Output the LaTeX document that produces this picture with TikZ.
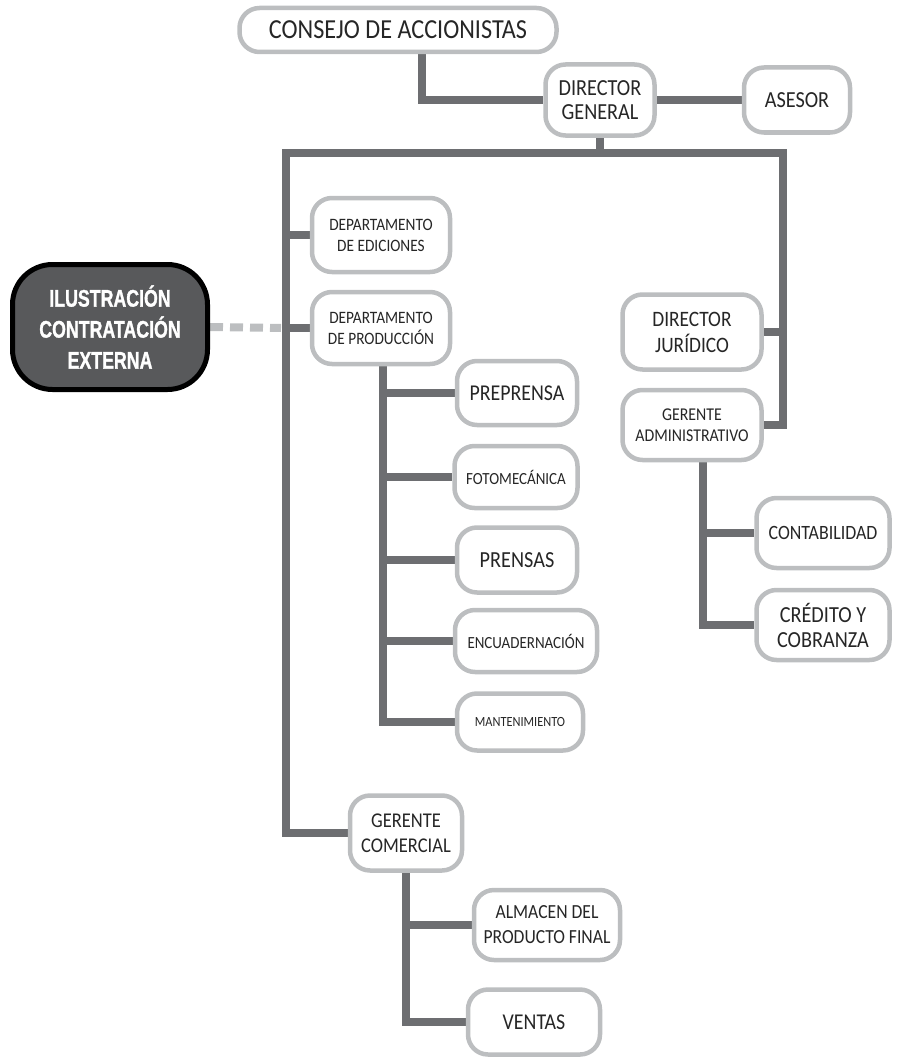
\documentclass[tikz,border=0pt]{standalone}
\usepackage{fontspec}
\usetikzlibrary{backgrounds}
\setmainfont[FakeStretch=0.88]{Carlito}
\newfontfamily\ilfont[FakeStretch=0.74,FakeBold=1.2]{Liberation Sans}
\definecolor{conncol}{HTML}{6D6E71}
\definecolor{bordcol}{HTML}{BCBEC0}
\definecolor{ilfill}{HTML}{58595B}
\tikzset{
  box/.style={draw=bordcol, line width=4.5pt, fill=white, rounded corners=20pt, align=center, inner sep=0pt, text=black!85},
  ilbox/.style={draw=black, line width=5pt, fill=ilfill, rounded corners=40pt, align=center, inner sep=0pt, text=white},
  conn/.style={draw=conncol, line width=8pt},
  dconn/.style={draw=bordcol, line width=8pt, dash pattern=on 13pt off 7pt},
}
\begin{document}
\begin{tikzpicture}[x=1pt,y=-1pt]
\useasboundingbox (0,0) rectangle (902,1062);
% coordinates of trunk
\coordinate (tl) at (286,153);
\coordinate (tr) at (783,153);
% nodes
\node[box, minimum width=317pt, minimum height=44pt, font=\fontsize{27.5}{29}\selectfont] (consejo) at (398,30) {CONSEJO DE ACCIONISTAS};
\node[box, minimum width=109pt, minimum height=71pt, font=\fontsize{23}{24}\selectfont] (dg) at (600,100) {DIRECTOR\\GENERAL};
\node[box, minimum width=106pt, minimum height=65pt, font=\fontsize{23}{24}\selectfont] (asesor) at (797,100) {ASESOR};
\node[box, minimum width=138pt, minimum height=74pt, font=\fontsize{17.4}{21}\selectfont] (ed) at (381,235) {DEPARTAMENTO\\DE EDICIONES};
\node[box, minimum width=138pt, minimum height=72pt, font=\fontsize{17.4}{21}\selectfont] (dp) at (381,328) {DEPARTAMENTO\\DE PRODUCCIÓN};
\node[ilbox, minimum width=195pt, minimum height=125pt, font=\ilfont\bfseries\fontsize{24}{31}\selectfont] (ilu) at (110,327) {ILUSTRACIÓN\\CONTRATACIÓN\\EXTERNA};
\node[box, minimum width=120pt, minimum height=64pt, font=\fontsize{22.6}{24}\selectfont] (pre) at (517,393) {PREPRENSA};
\node[box, minimum width=123pt, minimum height=62pt, font=\fontsize{17}{18}\selectfont] (foto) at (516,477) {FOTOMECÁNICA};
\node[box, minimum width=120pt, minimum height=65pt, font=\fontsize{23}{24}\selectfont] (prensas) at (517,560) {PRENSAS};
\node[box, minimum width=142pt, minimum height=62pt, font=\fontsize{17}{18}\selectfont] (enc) at (526,641) {ENCUADERNACIÓN};
\node[box, minimum width=126pt, minimum height=57pt, font=\fontsize{14}{15}\selectfont] (mant) at (520,722) {MANTENIMIENTO};
\node[box, minimum width=139pt, minimum height=75pt, font=\fontsize{22}{26}\selectfont] (dj) at (692,332) {DIRECTOR\\JURÍDICO};
\node[box, minimum width=139pt, minimum height=70pt, font=\fontsize{18}{21}\selectfont] (ga) at (692,425) {GERENTE\\ADMINISTRATIVO};
\node[box, minimum width=133pt, minimum height=70pt, font=\fontsize{20.3}{22}\selectfont] (cont) at (823,533) {CONTABILIDAD};
\node[box, minimum width=133pt, minimum height=70pt, font=\fontsize{23}{25}\selectfont] (cred) at (823,625) {CRÉDITO Y\\COBRANZA};
\node[box, minimum width=112pt, minimum height=75pt, font=\fontsize{21}{25}\selectfont] (gc) at (406,833) {GERENTE\\COMERCIAL};
\node[box, minimum width=146pt, minimum height=70pt, font=\fontsize{20}{25}\selectfont] (alm) at (547,925) {ALMACEN DEL\\PRODUCTO FINAL};
\node[box, minimum width=132pt, minimum height=65pt, font=\fontsize{22.6}{24}\selectfont] (ventas) at (534,1022) {VENTAS};
% connectors
\begin{scope}[on background layer]
\draw[conn] ([xshift=24pt]consejo.south) |- (dg.west);
\draw[conn] (dg.east) -- (asesor.west);
\draw[conn] (dg.south) -- (dg.south |- tl);
\draw[conn, line cap=rect] (tl) -- (tr);
\draw[conn] (tl) |- (gc.west);
\draw[conn] (tl |- ed.west) -- (ed.west);
\draw[conn] (tl |- dp.west) -- (dp.west);
\draw[dconn] (ilu.east) -- ([xshift=-5pt]tl |- dp.west);
\draw[conn] (tr) |- (ga.east);
\draw[conn] (tr |- dj.east) -- (dj.east);
\draw[conn] ([xshift=2pt]dp.south) |- (mant.west);
\draw[conn] ([xshift=2pt]dp.south |- pre.west) -- (pre.west);
\draw[conn] ([xshift=2pt]dp.south |- foto.west) -- (foto.west);
\draw[conn] ([xshift=2pt]dp.south |- prensas.west) -- (prensas.west);
\draw[conn] ([xshift=2pt]dp.south |- enc.west) -- (enc.west);
\draw[conn] ([xshift=11pt]ga.south) |- (cred.west);
\draw[conn] ([xshift=11pt]ga.south |- cont.west) -- (cont.west);
\draw[conn] (gc.south) |- (ventas.west);
\draw[conn] (gc.south |- alm.west) -- (alm.west);
\end{scope}
\end{tikzpicture}
\end{document}
